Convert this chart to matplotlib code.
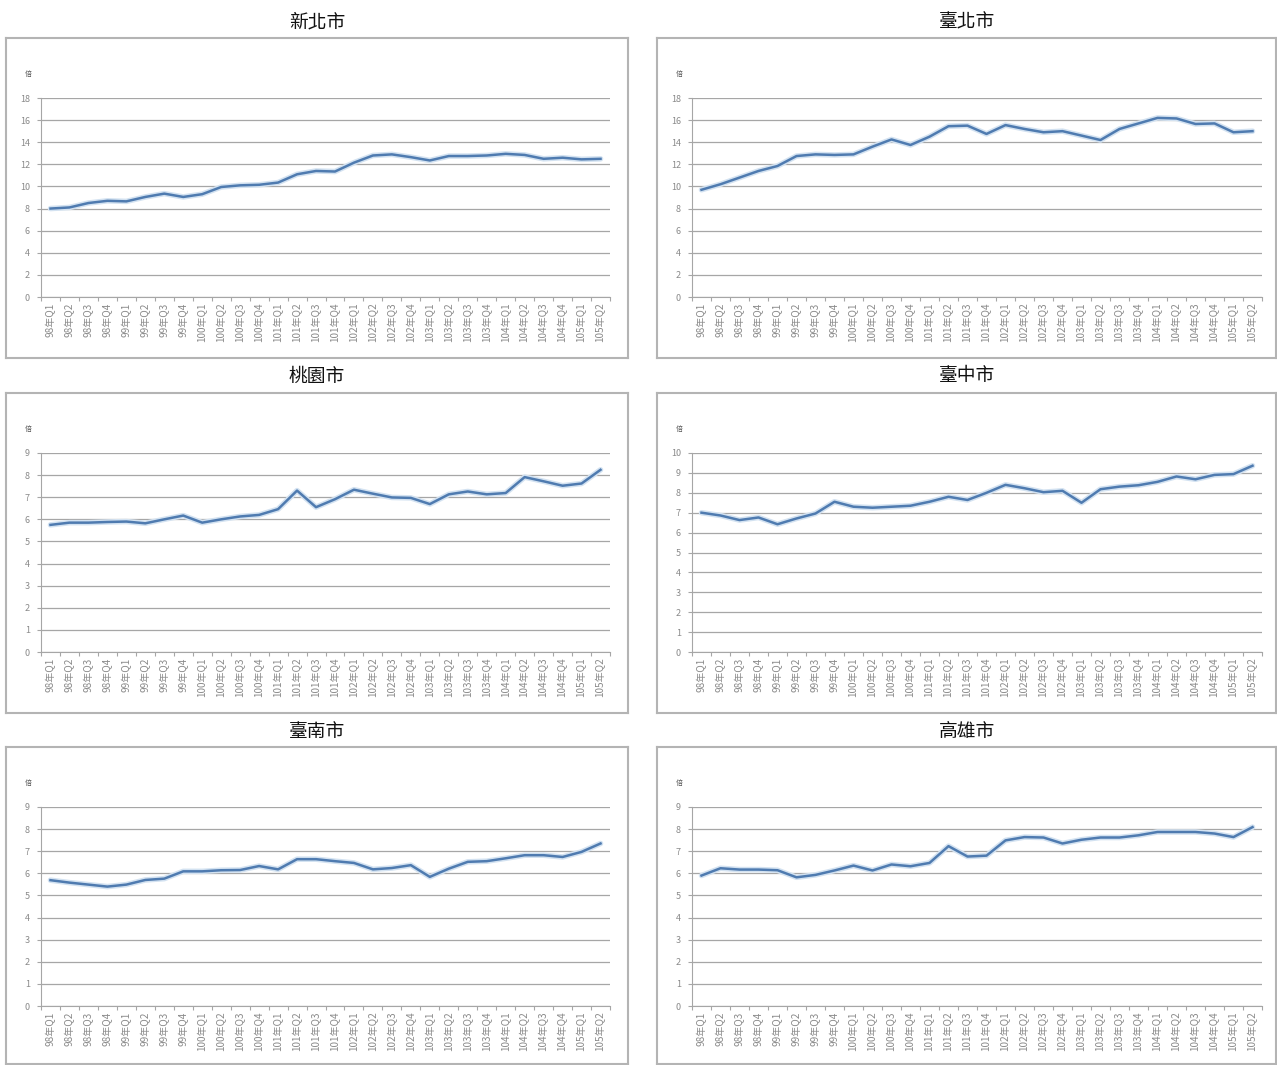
import matplotlib
matplotlib.use("Agg")
import matplotlib.pyplot as plt
from matplotlib.ticker import FixedLocator, MultipleLocator

plt.rcParams['font.family'] = ['Noto Sans CJK TC', 'DejaVu Sans']

quarters = []
for yr in ["98", "99", "100", "101", "102", "103", "104", "105"]:
    for q in ["Q1", "Q2", "Q3", "Q4"]:
        quarters.append(f"{yr}年{q}")
quarters = quarters[:30]

new_taipei = [8.0, 8.1, 8.5, 8.7, 8.65, 9.05, 9.35, 9.05, 9.3, 9.95,
              10.1, 10.15, 10.35, 11.1, 11.4, 11.35, 12.15, 12.8, 12.9, 12.65,
              12.35, 12.75, 12.75, 12.8, 12.95, 12.85, 12.5, 12.6, 12.45, 12.5]
taipei = [9.7, 10.2, 10.8, 11.4, 11.85, 12.75, 12.9, 12.85, 12.9, 13.6,
          14.25, 13.75, 14.5, 15.45, 15.5, 14.75, 15.55, 15.2, 14.9, 15.0,
          14.6, 14.2, 15.2, 15.7, 16.2, 16.15, 15.65, 15.7, 14.9, 15.0]
taoyuan = [5.75, 5.85, 5.85, 5.88, 5.9, 5.82, 6.0, 6.17, 5.85, 6.0,
           6.13, 6.2, 6.46, 7.3, 6.55, 6.91, 7.34, 7.16, 6.99, 6.97,
           6.69, 7.13, 7.26, 7.13, 7.19, 7.91, 7.72, 7.52, 7.62, 8.24]
taichung = [7.0, 6.86, 6.63, 6.76, 6.42, 6.71, 6.96, 7.55, 7.3, 7.25,
            7.3, 7.35, 7.55, 7.8, 7.64, 8.0, 8.4, 8.23, 8.03, 8.1,
            7.5, 8.18, 8.31, 8.38, 8.55, 8.82, 8.68, 8.9, 8.94, 9.36]
tainan = [5.69, 5.58, 5.49, 5.40, 5.49, 5.70, 5.76, 6.09, 6.09, 6.14,
          6.15, 6.33, 6.18, 6.64, 6.64, 6.55, 6.47, 6.18, 6.24, 6.37,
          5.84, 6.21, 6.52, 6.55, 6.68, 6.82, 6.82, 6.74, 6.97, 7.35]
kaohsiung = [5.9, 6.23, 6.17, 6.17, 6.14, 5.82, 5.93, 6.13, 6.35, 6.13,
             6.4, 6.32, 6.47, 7.23, 6.76, 6.8, 7.49, 7.64, 7.62, 7.35,
             7.52, 7.62, 7.62, 7.72, 7.87, 7.87, 7.87, 7.8, 7.64, 8.09]

titles = ["新北市", "臺北市", "桃園市", "臺中市", "臺南市", "高雄市"]
series = [new_taipei, taipei, taoyuan, taichung, tainan, kaohsiung]
ymaxes = [18, 18, 9, 10, 9, 9]
ysteps = [2, 2, 1, 1, 1, 1]
unit_label = "倍"

W, H = 1277, 1065
fig = plt.figure(figsize=(W / 100, H / 100), dpi=100)
fig.patch.set_facecolor("white")


def rect(x0, y0, x1, y1):
    return [x0 / W, 1 - y1 / H, (x1 - x0) / W, (y1 - y0) / H]


col_frames = [(6, 628), (657, 1276)]
row_frames = [(38, 358), (393, 713), (747, 1064)]
col_plot = [(41, 610), (692, 1262)]
row_plot = [(98, 297), (453, 652), (807, 1006)]
title_y = [22, 376, 731]

grid_c = "#a6a6a6"
txt_c = "#8a8a8a"

for k in range(6):
    r, c = divmod(k, 2)
    fx0, fx1 = col_frames[c]
    fy0, fy1 = row_frames[r]
    fax = fig.add_axes(rect(fx0, fy0, fx1, fy1))
    fax.set_xticks([])
    fax.set_yticks([])
    for s in fax.spines.values():
        s.set_color("#b4b4b4")
        s.set_linewidth(1.5)
    fax.set_facecolor("white")
    fig.text((fx0 + fx1) / 2 / W, 1 - title_y[r] / H, titles[k],
             ha="center", va="center", fontsize=13.5, color="#111111")

    px0, px1 = col_plot[c]
    py0, py1 = row_plot[r]
    ax = fig.add_axes(rect(px0, py0, px1, py1))
    ax.set_facecolor("none")
    x = list(range(len(quarters)))
    ax.plot(x, series[k], color="#d3e2f1", lw=4.0, solid_capstyle="round", zorder=2)
    ax.plot(x, series[k], color="#4f7bb0", lw=1.8, solid_joinstyle="round", zorder=3)
    ax.set_xlim(-0.5, len(quarters) - 0.5)
    ax.set_ylim(0, ymaxes[k])
    ax.yaxis.set_major_locator(MultipleLocator(ysteps[k]))
    ax.grid(axis="y", color=grid_c, lw=0.9)
    ax.set_axisbelow(True)
    ax.set_xticks(x)
    ax.set_xticklabels(quarters, rotation=90, fontsize=7.2, color=txt_c)
    ax.xaxis.set_minor_locator(FixedLocator([i - 0.5 for i in range(len(quarters) + 1)]))
    ax.tick_params(axis="x", which="major", length=0, pad=4)
    ax.tick_params(axis="x", which="minor", length=3, color=grid_c, width=0.8)
    ax.tick_params(axis="y", labelsize=6.5, labelcolor=txt_c, length=3, color=grid_c, width=0.8, pad=5)
    for side in ["top", "right"]:
        ax.spines[side].set_visible(False)
    ax.spines["left"].set_color(grid_c)
    ax.spines["bottom"].set_color(grid_c)
    ax.text(-0.022, 1.12, unit_label, transform=ax.transAxes, fontsize=5,
            color="#555555", ha="center", va="center")

fig.savefig("out.png", dpi=100, facecolor="white")
